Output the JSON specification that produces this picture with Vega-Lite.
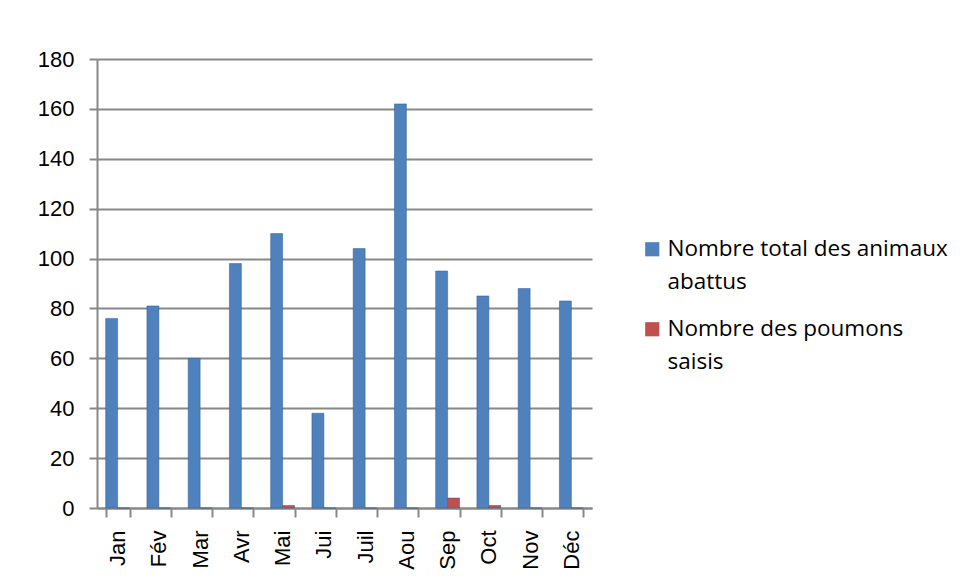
{
  "$schema": "https://vega.github.io/schema/vega-lite/v6.json",
  "width": 495,
  "height": 449,
  "autosize": {"type": "none"},
  "padding": {"left": 97, "top": 59, "right": 372, "bottom": 80},
  "background": "white",
  "config": {
    "font": "Liberation Sans",
    "view": {"stroke": null},
    "axis": {"labelFont": "Liberation Sans", "labelColor": "#000", "labelFontSize": 22},
    "style": {"guide-label": {"lineHeight": 33}}
  },
  "data": {
    "values": [
      {"mois": "Jan", "serie": "Nombre total des animaux abattus", "valeur": 76},
      {"mois": "Fév", "serie": "Nombre total des animaux abattus", "valeur": 81},
      {"mois": "Mar", "serie": "Nombre total des animaux abattus", "valeur": 60},
      {"mois": "Avr", "serie": "Nombre total des animaux abattus", "valeur": 98},
      {"mois": "Mai", "serie": "Nombre total des animaux abattus", "valeur": 110},
      {"mois": "Jui", "serie": "Nombre total des animaux abattus", "valeur": 38},
      {"mois": "Juil", "serie": "Nombre total des animaux abattus", "valeur": 104},
      {"mois": "Aou", "serie": "Nombre total des animaux abattus", "valeur": 162},
      {"mois": "Sep", "serie": "Nombre total des animaux abattus", "valeur": 95},
      {"mois": "Oct", "serie": "Nombre total des animaux abattus", "valeur": 85},
      {"mois": "Nov", "serie": "Nombre total des animaux abattus", "valeur": 88},
      {"mois": "Déc", "serie": "Nombre total des animaux abattus", "valeur": 83},
      {"mois": "Jan", "serie": "Nombre des poumons saisis", "valeur": 0},
      {"mois": "Fév", "serie": "Nombre des poumons saisis", "valeur": 0},
      {"mois": "Mar", "serie": "Nombre des poumons saisis", "valeur": 0},
      {"mois": "Avr", "serie": "Nombre des poumons saisis", "valeur": 0},
      {"mois": "Mai", "serie": "Nombre des poumons saisis", "valeur": 1},
      {"mois": "Jui", "serie": "Nombre des poumons saisis", "valeur": 0},
      {"mois": "Juil", "serie": "Nombre des poumons saisis", "valeur": 0},
      {"mois": "Aou", "serie": "Nombre des poumons saisis", "valeur": 0},
      {"mois": "Sep", "serie": "Nombre des poumons saisis", "valeur": 4},
      {"mois": "Oct", "serie": "Nombre des poumons saisis", "valeur": 1},
      {"mois": "Nov", "serie": "Nombre des poumons saisis", "valeur": 0},
      {"mois": "Déc", "serie": "Nombre des poumons saisis", "valeur": 0}
    ]
  },
  "mark": {"type": "bar", "stroke": "#2f5d96", "strokeWidth": 0.5, "minBandSize": 1},
  "encoding": {
    "x": {
      "field": "mois",
      "type": "nominal",
      "sort": ["Jan", "Fév", "Mar", "Avr", "Mai", "Jui", "Juil", "Aou", "Sep", "Oct", "Nov", "Déc"],
      "title": null,
      "scale": {"paddingInner": 0.42, "paddingOuter": 0.21},
      "axis": {
        "labelAngle": -90,
        "labelAlign": "right",
        "labelBaseline": "middle",
        "labelPadding": 13,
        "domainColor": "#888",
        "domainWidth": 2,
        "tickColor": "#888",
        "tickWidth": 2,
        "tickSize": 9,
        "tickBand": "extent",
        "grid": false
      }
    },
    "xOffset": {
      "field": "serie",
      "type": "nominal",
      "sort": ["Nombre total des animaux abattus", "Nombre des poumons saisis"]
    },
    "y": {
      "field": "valeur",
      "type": "quantitative",
      "title": null,
      "scale": {"domain": [0, 180]},
      "axis": {
        "values": [0, 20, 40, 60, 80, 100, 120, 140, 160, 180],
        "domainColor": "#888",
        "domainWidth": 2,
        "tickColor": "#888",
        "tickWidth": 2,
        "tickSize": 8,
        "labelPadding": 15,
        "gridColor": "#888",
        "gridWidth": 2
      }
    },
    "color": {
      "field": "serie",
      "type": "nominal",
      "sort": ["Nombre total des animaux abattus", "Nombre des poumons saisis"],
      "scale": {"range": ["#4F81BD", "#C0504D"]},
      "legend": {
        "title": null,
        "orient": "none",
        "legendX": 544,
        "legendY": 179,
        "symbolType": "square",
        "symbolSize": 200,
        "symbolStrokeWidth": 0,
        "labelFont": "Open Sans",
        "labelFontSize": 22.5,
        "labelColor": "#000",
        "labelLimit": 400,
        "labelBaseline": "middle",
        "labelOffset": 4,
        "rowPadding": 24,
        "labelExpr": "datum.label == 'Nombre total des animaux abattus' ? ['Nombre total des animaux', 'abattus'] : ['Nombre des poumons', 'saisis']"
      }
    }
  }
}
